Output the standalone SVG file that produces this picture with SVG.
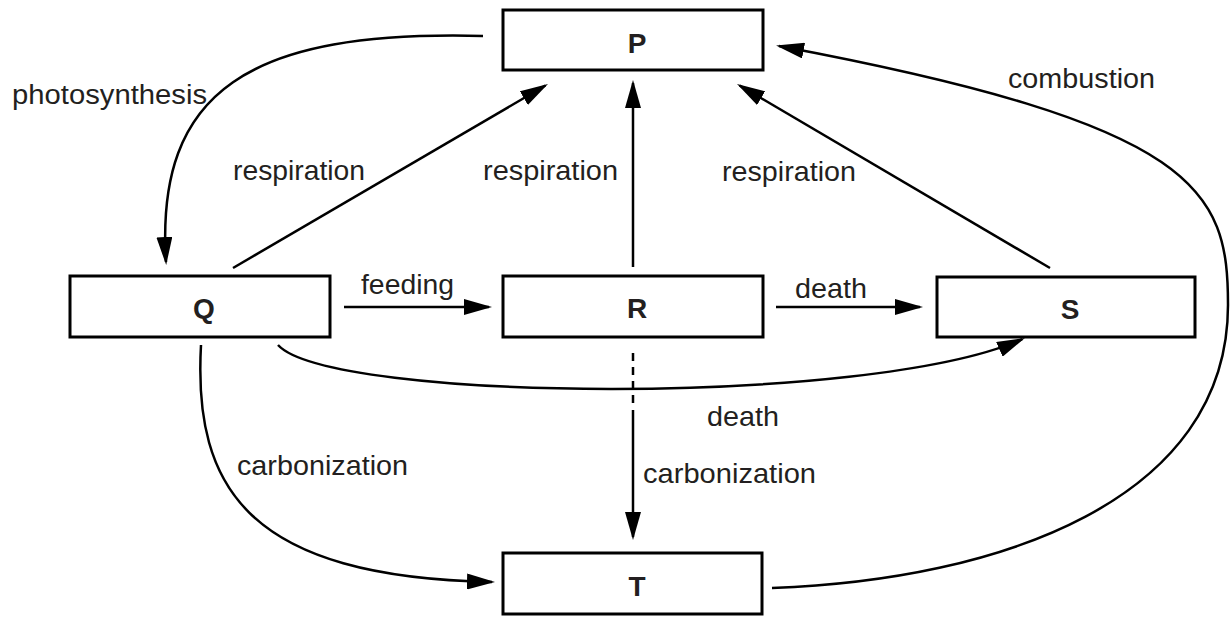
<svg xmlns="http://www.w3.org/2000/svg" width="1231" height="619" viewBox="0 0 1231 619">
<style>
.box{fill:#fff;stroke:#000;stroke-width:3}
.nl{font-family:"Liberation Sans",Arial,sans-serif;font-weight:bold;font-size:28px;fill:#231f20;text-anchor:middle}
.lbl{font-family:"Liberation Sans",Arial,sans-serif;font-size:27.5px;fill:#231f20}
.c{fill:none;stroke:#000;stroke-width:2.5}
.a{marker-end:url(#ah)}
</style>
<defs>
<marker id="ah" viewBox="0 0 28 16" refX="25" refY="8" markerWidth="28" markerHeight="16" markerUnits="userSpaceOnUse" orient="auto">
<path d="M0,0 L28,8 L0,16 z" fill="#000"/>
</marker>
</defs>
<rect width="1231" height="619" fill="#fff"/>
<g id="connectors">
<path class="c a" d="M483,36 C250,30 155,90 166,262"/>
<path class="c a" d="M233,268 L545.4,85.5"/>
<path class="c a" d="M633,267 L633,83"/>
<path class="c a" d="M1050,268 L739.6,85.5"/>
<path class="c a" d="M772,588 C1000,580 1228,500 1228,305 C1228,190 1200,125 779,46"/>
<path class="c a" d="M344,307 L489,307"/>
<path class="c a" d="M776,307 L920,307"/>
<path class="c a" d="M278,345 C330,402 870,407 1022.2,339.2"/>
<path class="c a" d="M201,345 C193,490 250,577 492,582"/>
<path class="c" d="M633,353 L633,403" stroke-dasharray="8 6"/>
<path class="c a" d="M633,410 L633,537"/>
</g>
<g id="node-P"><rect class="box" x="503" y="10" width="260" height="60"/><text class="nl" x="637" y="53">P</text></g>
<g id="node-Q"><rect class="box" x="70" y="276" width="260" height="61"/><text class="nl" x="204" y="318">Q</text></g>
<g id="node-R"><rect class="box" x="503" y="276" width="260" height="61"/><text class="nl" x="637" y="318">R</text></g>
<g id="node-S"><rect class="box" x="937" y="277" width="258" height="60"/><text class="nl" x="1070" y="319">S</text></g>
<g id="node-T"><rect class="box" x="503" y="553" width="259" height="61"/><text class="nl" x="637" y="596">T</text></g>
<g id="labels">
<text class="lbl" x="12" y="104" textLength="195" lengthAdjust="spacingAndGlyphs">photosynthesis</text>
<text class="lbl" x="233" y="180" textLength="132" lengthAdjust="spacingAndGlyphs">respiration</text>
<text class="lbl" x="483" y="180" textLength="135" lengthAdjust="spacingAndGlyphs">respiration</text>
<text class="lbl" x="722" y="181" textLength="134" lengthAdjust="spacingAndGlyphs">respiration</text>
<text class="lbl" x="1008" y="88" textLength="147" lengthAdjust="spacingAndGlyphs">combustion</text>
<text class="lbl" x="361" y="294" textLength="93" lengthAdjust="spacingAndGlyphs">feeding</text>
<text class="lbl" x="795" y="298" textLength="72" lengthAdjust="spacingAndGlyphs">death</text>
<text class="lbl" x="707" y="426" textLength="72" lengthAdjust="spacingAndGlyphs">death</text>
<text class="lbl" x="643" y="483" textLength="173" lengthAdjust="spacingAndGlyphs">carbonization</text>
<text class="lbl" x="237" y="475" textLength="171" lengthAdjust="spacingAndGlyphs">carbonization</text>
</g>
</svg>
